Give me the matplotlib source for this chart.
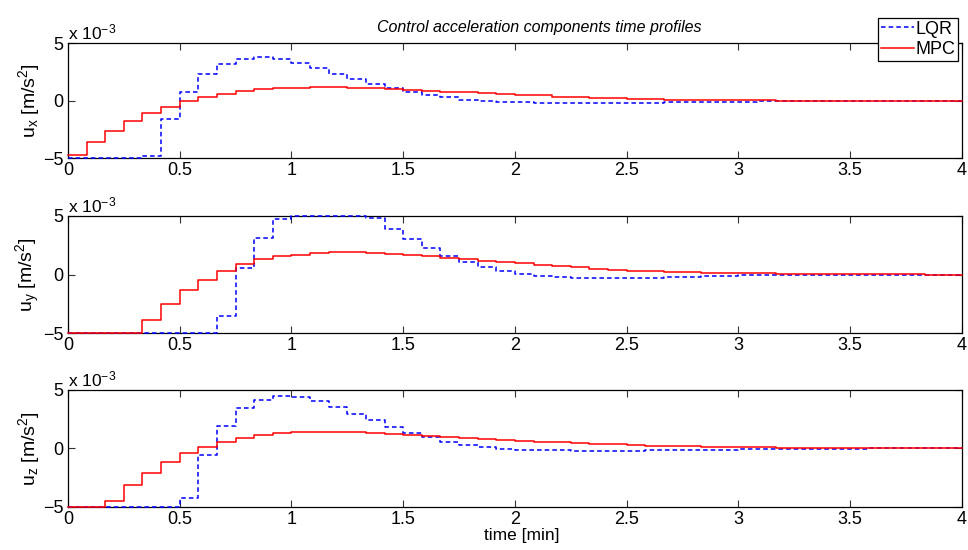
import numpy as np
import matplotlib.pyplot as plt

plt.rcParams['font.family'] = ['Liberation Sans', 'DejaVu Sans']
plt.rcParams['mathtext.fontset'] = 'custom'
plt.rcParams['mathtext.rm'] = 'Liberation Sans'
plt.rcParams['mathtext.it'] = 'Liberation Sans:italic'
plt.rcParams['mathtext.default'] = 'regular'

# sample time of the controllers [min]
dt = 1.0 / 12.0

# control accelerations, units of 1e-3 m/s^2, one value per sample
ux_lqr = [-4.95, -4.95, -4.95, -4.95, -4.77, -1.57, 0.77, 2.29, 3.17, 3.63, 3.77, 3.65,
          3.27, 2.83, 2.37, 1.91, 1.49, 1.09, 0.77, 0.49, 0.29, 0.11, 0.0, -0.09,
          -0.14, -0.16, -0.17, -0.18, -0.18, -0.17, -0.16, -0.15, -0.13, -0.11, -0.10, -0.08,
          -0.07, -0.05, -0.04, -0.03, -0.02, -0.02, -0.01, -0.01, -0.01, 0.0, 0.0, 0.0]
ux_mpc = [-4.7, -3.6, -2.63, -1.77, -1.09, -0.51, -0.05, 0.31, 0.63, 0.86, 1.03, 1.12,
          1.14, 1.17, 1.17, 1.14, 1.09, 1.03, 0.97, 0.89, 0.80, 0.74, 0.69, 0.60,
          0.53, 0.46, 0.37, 0.31, 0.26, 0.20, 0.17, 0.14, 0.11, 0.09, 0.06, 0.05,
          0.03, 0.03, 0.02, 0.02, 0.01, 0.01, 0.01, 0.01, 0.0, 0.0, 0.0, 0.0]

uy_lqr = [-5.0, -5.0, -5.0, -5.0, -5.0, -5.0, -5.0, -5.0, -3.49, 0.57, 3.14, 4.71,
          5.0, 5.0, 5.0, 5.0, 4.8, 3.89, 3.0, 2.26, 1.6, 1.09, 0.6, 0.29,
          0.05, -0.11, -0.2, -0.29, -0.31, -0.31, -0.29, -0.26, -0.23, -0.2, -0.14, -0.11,
          -0.06, -0.05, -0.04, -0.03, -0.02, -0.02, -0.01, -0.01, 0.0, 0.0, 0.0, 0.0]
uy_mpc = [-5.0, -5.0, -5.0, -5.0, -3.89, -2.49, -1.31, -0.43, 0.31, 0.91, 1.29, 1.54,
          1.68, 1.83, 1.9, 1.91, 1.86, 1.77, 1.66, 1.54, 1.4, 1.29, 1.17, 1.06,
          0.94, 0.83, 0.71, 0.60, 0.49, 0.40, 0.34, 0.29, 0.23, 0.20, 0.17, 0.14,
          0.11, 0.09, 0.07, 0.05, 0.04, 0.03, 0.02, 0.02, 0.01, 0.01, 0.0, 0.0]

uz_lqr = [-5.0, -5.0, -5.0, -5.0, -5.0, -5.0, -4.23, -0.57, 1.91, 3.43, 4.14, 4.49,
          4.4, 4.03, 3.49, 2.91, 2.4, 1.8, 1.29, 0.94, 0.57, 0.29, 0.11, -0.03,
          -0.11, -0.15, -0.18, -0.2, -0.2, -0.2, -0.19, -0.18, -0.16, -0.14, -0.12, -0.1,
          -0.08, -0.07, -0.05, -0.04, -0.03, -0.02, -0.02, -0.01, -0.01, 0.0, 0.0, 0.0]
uz_mpc = [-5.0, -5.0, -4.51, -3.14, -2.09, -1.17, -0.43, 0.11, 0.54, 0.91, 1.11, 1.29,
          1.35, 1.4, 1.4, 1.37, 1.31, 1.26, 1.17, 1.09, 1.0, 0.91, 0.83, 0.71,
          0.63, 0.57, 0.5, 0.44, 0.38, 0.33, 0.28, 0.24, 0.2, 0.17, 0.14, 0.12,
          0.1, 0.08, 0.07, 0.05, 0.04, 0.03, 0.03, 0.02, 0.02, 0.01, 0.01, 0.01]

componentes = [('x', ux_lqr, ux_mpc), ('y', uy_lqr, uy_mpc), ('z', uz_lqr, uz_mpc)]
xticks = [0, 0.5, 1, 1.5, 2, 2.5, 3, 3.5, 4]
xtick_labels = ['0', '0.5', '1', '1.5', '2', '2.5', '3', '3.5', '4']

# axes positions in figure fractions [left, bottom, width, height]
posicoes = [[0.0702, 0.7122, 0.9236, 0.2091],
            [0.0702, 0.3940, 0.9236, 0.2138],
            [0.0702, 0.0782, 0.9236, 0.2133]]

fig = plt.figure(figsize=(9.68, 5.5), dpi=100)
eixos = []
for pos, (nome, lqr, mpc) in zip(posicoes, componentes):
    ax = fig.add_axes(pos)
    t = np.arange(len(lqr) + 1) * dt
    ax.step(t, np.append(lqr, lqr[-1]), where='post', color='#0000ff',
            linestyle=(0, (3, 2)), lw=1.1, label='LQR', clip_on=False, zorder=3)
    ax.step(t, np.append(mpc, mpc[-1]), where='post', color='#ff0000',
            lw=1.1, label='MPC', clip_on=False, zorder=3)
    ax.set_xlim(0, 4)
    ax.set_ylim(-5, 5)
    ax.set_xticks(xticks)
    ax.set_xticklabels(xtick_labels)
    ax.set_yticks([-5, 0, 5])
    ax.set_yticklabels(['\u22125', '0', '5'])
    ax.tick_params(direction='in', top=True, right=True, length=5, width=0.8,
                   labelsize=13, pad=3, color='#333333')
    for s in ax.spines.values():
        s.set_linewidth(0.9)
    ax.set_ylabel('u$_%s$ [m/s$^2$]' % nome, fontsize=14, labelpad=1)
    # scale factor of the y axis
    ax.text(0.0, 1.005, 'x 10$^{-3}$', transform=ax.transAxes, ha='left',
            va='bottom', fontsize=12.5)
    eixos.append(ax)

eixos[0].set_title('Control acceleration components time profiles',
                   fontstyle='italic', fontsize=11.5, pad=8, x=0.527)
eixos[2].set_xlabel('time [min]', fontsize=12.5, labelpad=0, x=0.508)

leg = eixos[0].legend(loc='upper right', bbox_to_anchor=(958 / 968, 1 - 18 / 550),
                      bbox_transform=fig.transFigure, fontsize=13, fancybox=False,
                      edgecolor='black', framealpha=1, handlelength=1.8,
                      handletextpad=0.1, borderpad=0.15, labelspacing=0.2,
                      borderaxespad=0)
leg.get_frame().set_linewidth(0.9)

fig.savefig('out.png', dpi=100)
